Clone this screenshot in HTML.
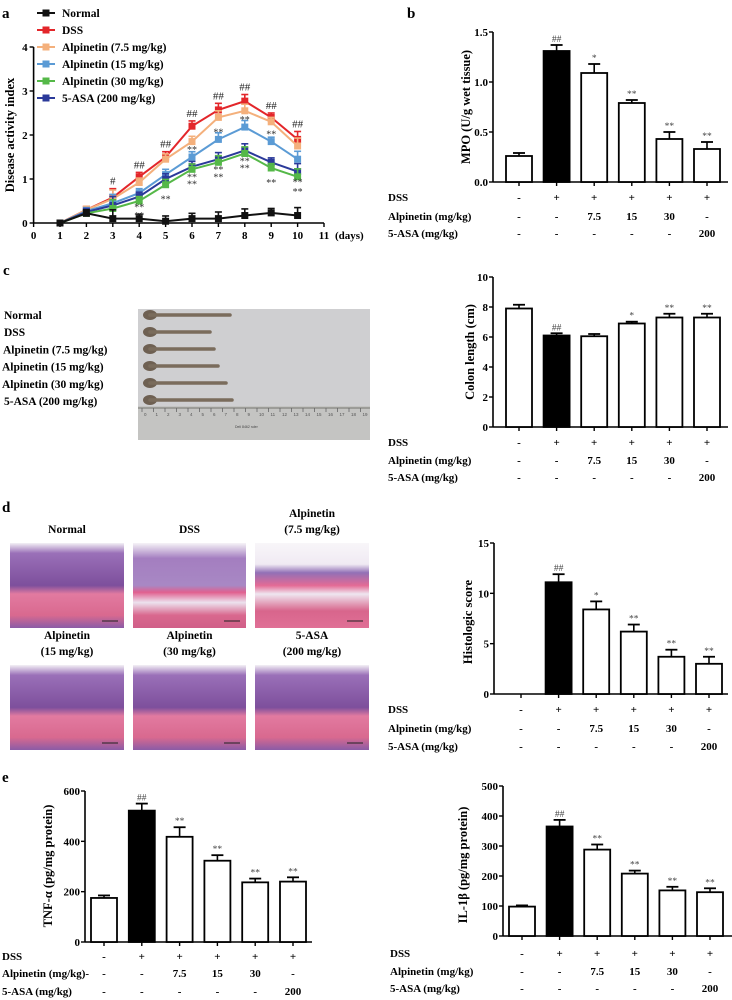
<!DOCTYPE html>
<html><head><meta charset="utf-8"><style>
html,body{margin:0;padding:0;background:#fff;}
svg{display:block;font-family:"Liberation Serif",serif;}
.b{font-weight:bold;}
</style></head><body>
<svg id="fig" width="732" height="1000" viewBox="0 0 732 1000" xmlns="http://www.w3.org/2000/svg">
<defs>
<linearGradient id="hist1" x1="0" y1="0" x2="0" y2="1">
<stop offset="0" stop-color="#f3f0f5"/><stop offset="0.12" stop-color="#9a70b8"/><stop offset="0.5" stop-color="#7d4f9c"/><stop offset="0.6" stop-color="#e27aa0"/><stop offset="0.85" stop-color="#d9698f"/><stop offset="1" stop-color="#8b5ca6"/>
</linearGradient>
<linearGradient id="hist2" x1="0" y1="0" x2="0" y2="1">
<stop offset="0" stop-color="#f6f3f7"/><stop offset="0.18" stop-color="#a47ec0"/><stop offset="0.5" stop-color="#a888c4"/><stop offset="0.58" stop-color="#e0608f"/><stop offset="0.7" stop-color="#ece2ee"/><stop offset="0.85" stop-color="#d9688e"/><stop offset="1" stop-color="#d05f88"/>
</linearGradient>
<linearGradient id="hist3" x1="0" y1="0" x2="0" y2="1">
<stop offset="0" stop-color="#f8f6f9"/><stop offset="0.25" stop-color="#f0eaf3"/><stop offset="0.35" stop-color="#9270b6"/><stop offset="0.5" stop-color="#e46b95"/><stop offset="0.6" stop-color="#efe6f0"/><stop offset="0.8" stop-color="#d8658c"/><stop offset="1" stop-color="#e07096"/>
</linearGradient>
</defs>
</svg>
<script>
const NS='http://www.w3.org/2000/svg';
const svg=document.getElementById('fig');
function el(tag,attrs,parent,text){const e=document.createElementNS(NS,tag);for(const k in attrs)e.setAttribute(k,attrs[k]);if(text!==undefined)e.textContent=text;(parent||svg).appendChild(e);return e;}

// ---------- Panel a data ----------
const aDays=[1,2,3,4,5,6,7,8,9,10];
const aSeriesNames=['Normal','DSS','Alpinetin (7.5 mg/kg)','Alpinetin (15 mg/kg)','Alpinetin (30 mg/kg)','5-ASA (200 mg/kg)'];
const aNormal=[0,0.22,0.1,0.1,0.04,0.1,0.1,0.17,0.23,0.17];
const aDSS=[0,0.3,0.58,1.05,1.5,2.2,2.57,2.77,2.4,1.9];
const aAlp75=[0,0.3,0.55,0.92,1.45,1.85,2.4,2.55,2.3,1.75];
const aAlp15=[0,0.27,0.45,0.68,1.1,1.5,1.9,2.18,1.85,1.45];
const aAlp30=[0,0.22,0.33,0.5,0.87,1.22,1.38,1.58,1.25,1.05];
const aASA=[0,0.25,0.4,0.6,1.0,1.28,1.45,1.65,1.38,1.17];
const aErr=[0.1,0.08,0.2,0.1,0.12,0.12,0.15,0.15,0.1,0.18];
const aXTicks=[0,1,2,3,4,5,6,7,8,9,10,11];
const aYTicks=[0,1,2,3,4];
const aHash=['','','#','##','##','##','##','##','##','##'];

// ---------- bar panels data ----------
const groups=['Normal','DSS','Alp 7.5','Alp 15','Alp 30','5-ASA'];
const rowDSS=['-','+','+','+','+','+'];
const rowAlp=['-','-','7.5','15','30','-'];
const rowASA=['-','-','-','-','-','200'];
const mpoVals=[0.26,1.31,1.09,0.79,0.43,0.33];
const mpoErr=[0.03,0.06,0.09,0.03,0.07,0.07];
const mpoTicks=['0.0','0.5','1.0','1.5'];
const colonVals=[7.9,6.1,6.05,6.9,7.3,7.3];
const colonErr=[0.25,0.15,0.15,0.12,0.25,0.25];
const colonTicks=[0,2,4,6,8,10];
const histVals=[0,11.1,8.4,6.2,3.7,3.0];
const histErr=[0,0.8,0.8,0.7,0.7,0.7];
const histTicks=[0,5,10,15];
const tnfVals=[175,522,418,323,237,240];
const tnfErr=[10,28,38,22,15,17];
const tnfTicks=[0,200,400,600];
const ilVals=[98,365,288,208,152,146];
const ilErr=[4,22,17,10,12,13];
const ilTicks=[0,100,200,300,400,500];
const mpoSig=['','##','*','**','**','**'];
const colonSig=['','##','','*','**','**'];
const histSig=['','##','*','**','**','**'];
const tnfSig=['','##','**','**','**','**'];
const ilSig=['','##','**','**','**','**'];

// ---------- Panel a ----------
(function(){
  const g=el('g',{});
  const x0=33.6,xs=26.4,y0=223,ys=44;
  const X=d=>x0+d*xs, Y=v=>y0-v*ys;
  el('text',{x:2,y:18,'font-size':15,'font-weight':'bold'},g,'a');
  // axes
  el('line',{x1:X(0),y1:Y(4),x2:X(0),y2:Y(0),stroke:'#000','stroke-width':1.6},g);
  el('line',{x1:X(0),y1:Y(0),x2:X(11),y2:Y(0),stroke:'#000','stroke-width':1.6},g);
  aYTicks.forEach(t=>{el('line',{x1:X(0)-4,y1:Y(t),x2:X(0),y2:Y(t),stroke:'#000','stroke-width':1.4},g);
    const tx=el('text',{x:X(0)-6,y:Y(t)+4,'font-size':11,'font-weight':'bold','text-anchor':'end'},g,String(t));});
  aXTicks.forEach(t=>{el('line',{x1:X(t),y1:Y(0),x2:X(t),y2:Y(0)+4,stroke:'#000','stroke-width':1.4},g);
    const tx=el('text',{x:X(t),y:Y(0)+16,'font-size':11,'font-weight':'bold','text-anchor':'middle'},g,String(t));});
  el('text',{x:335,y:239,'font-size':11,'font-weight':'bold'},g,'(days)');
  const yt=el('text',{x:0,y:0,'font-size':12.5,'font-weight':'bold','text-anchor':'middle',transform:`translate(14,${Y(2)}) rotate(-90)`},g,'Disease activity index');
  
  const series=[aNormal,aDSS,aAlp75,aAlp15,aAlp30,aASA];
  const colors=['#111','#e3262a','#f4b07c','#5b9bd5','#55b848','#2b3a9a'];
  // draw from back to front: normal last? draw DSS first
  const order=[1,2,3,5,4,0];
  order.forEach(si=>{
    const vals=series[si],c=colors[si];
    const sg=el('g',{},g);
    let d='';vals.forEach((v,i)=>{d+=(i?'L':'M')+X(aDays[i])+','+Y(v);});
    el('path',{d:d,fill:'none',stroke:c,'stroke-width':2},sg);
    vals.forEach((v,i)=>{
      if(i>0){const e=aErr[i];el('line',{x1:X(aDays[i]),y1:Y(v),x2:X(aDays[i]),y2:Y(v+e),stroke:c,'stroke-width':1.6},sg);
        el('line',{x1:X(aDays[i])-3.5,y1:Y(v+e),x2:X(aDays[i])+3.5,y2:Y(v+e),stroke:c,'stroke-width':1.6},sg);}
      const m=el('rect',{x:X(aDays[i])-3.5,y:Y(v)-3.5,width:7,height:7,fill:c},sg);
      
    });
  });
  aHash.forEach((h,i)=>{if(h){const t=el('text',{x:X(aDays[i]),y:Y(aDSS[i]+aErr[i])-4,'font-size':11,'text-anchor':'middle',fill:'#222'},g,h);}});
  // ** marks for treatment groups (approx positions tied to series)
  const starSets=[[aAlp15,[5,6,7,8],-8,'**'],[aAlp30,[3,4,5,6,7,8,9],14,'**'],[aASA,[3,5,6,7,9],10,'**']];
  starSets.forEach(s=>{s[1].forEach(i=>{const t=el('text',{x:X(aDays[i])+(s[2]>10?0:0),y:Y(s[0][i])+s[2]+4,'font-size':10,'text-anchor':'middle',fill:'#333'},g,s[3]);});});
  // legend
  aSeriesNames.forEach((n,i)=>{
    const ly=13+i*17;const lg=el('g',{},g);
    el('line',{x1:37,y1:ly,x2:55,y2:ly,stroke:colors[i],'stroke-width':2},lg);
    el('rect',{x:42.5,y:ly-3.5,width:7,height:7,fill:colors[i]},lg);
    el('text',{x:62,y:ly+4,'font-size':11.5,'font-weight':'bold'},lg,n);
  });
})();

// ---------- generic bar chart ----------
function barChart(name,o){
  const g=el('g',{});
  const max=o.ticks[o.ticks.length-1]*1;
  const Y=v=>o.y0-(v/max)*(o.y0-o.yTop);
  const X=i=>o.cx0+i*o.step;
  el('line',{x1:o.ax,y1:o.yTop,x2:o.ax,y2:o.y0,stroke:'#000','stroke-width':1.6},g);
  el('line',{x1:o.ax,y1:o.y0,x2:o.axEnd,y2:o.y0,stroke:'#000','stroke-width':1.6},g);
  o.ticks.forEach(t=>{const v=parseFloat(t);el('line',{x1:o.ax-4,y1:Y(v),x2:o.ax,y2:Y(v),stroke:'#000','stroke-width':1.4},g);
    const tx=el('text',{x:o.ax-5,y:Y(v)+4,'font-size':11,'font-weight':'bold','text-anchor':'end'},g,String(t));});
  o.vals.forEach((v,i)=>{
    const cx=X(i);
    el('line',{x1:cx,y1:o.y0,x2:cx,y2:o.y0+4,stroke:'#000','stroke-width':1.4},g);
    if(v>0){
      const e=o.err[i];
      el('line',{x1:cx,y1:Y(v),x2:cx,y2:Y(v+e),stroke:'#000','stroke-width':1.6},g);
      el('line',{x1:cx-6,y1:Y(v+e),x2:cx+6,y2:Y(v+e),stroke:'#000','stroke-width':1.8},g);
      const r=el('rect',{x:cx-13,y:Y(v),width:26,height:o.y0-Y(v),fill:i===1?'#000':'#fff',stroke:'#000','stroke-width':1.8},g);
      
      
    }
    if(o.sig[i]){const t=el('text',{x:cx,y:Y(v+o.err[i])-3,'font-size':9.5,'text-anchor':'middle',fill:'#444'},g,o.sig[i]);}
  });
  const yt=el('text',{x:0,y:0,'font-size':12.5,'font-weight':'bold','text-anchor':'middle',transform:`translate(${o.titleX},${o.titleY}) rotate(-90)`},g,o.title);
  
  const rows=[['DSS',rowDSS],[o.alpLabel||'Alpinetin (mg/kg)',rowAlp],['5-ASA (mg/kg)',rowASA]];
  rows.forEach((r,ri)=>{
    const ry=o.rowY[ri];
    const lt=el('text',{x:o.labelX,y:ry+4,'font-size':11,'font-weight':'bold'},g,r[0]);
    r[1].forEach((s,i)=>{const t=el('text',{x:X(i),y:ry+4,'font-size':11,'font-weight':'bold','text-anchor':'middle'},g,s);});
  });
  return g;
}
el('text',{x:407,y:18,'font-size':15,'font-weight':'bold'},svg,'b');
barChart('panel-b-mpo-chart',{vals:mpoVals,err:mpoErr,ticks:mpoTicks,sig:mpoSig,ax:493,axEnd:728,y0:182,yTop:32,cx0:519,step:37.6,title:'MPO (U/g wet tissue)',titleX:470,titleY:107,labelX:388,rowY:[197,216,233]});
barChart('panel-c-colon-chart',{vals:colonVals,err:colonErr,ticks:colonTicks,sig:colonSig,ax:493,axEnd:728,y0:427,yTop:277,cx0:519,step:37.6,title:'Colon length (cm)',titleX:474,titleY:352,labelX:388,rowY:[442,460,477]});
barChart('panel-d-histology-chart',{vals:histVals,err:histErr,ticks:histTicks,sig:histSig,ax:494,axEnd:728,y0:694,yTop:543,cx0:521,step:37.6,title:'Histologic score',titleX:472,titleY:622,labelX:388,rowY:[709,728,746]});
el('text',{x:2,y:782,'font-size':15,'font-weight':'bold'},svg,'e');
barChart('panel-e-tnf-chart',{vals:tnfVals,err:tnfErr,ticks:tnfTicks,sig:tnfSig,ax:85,axEnd:312,y0:942,yTop:791,cx0:104,step:37.8,title:'TNF-α  (pg/mg protein)',titleX:52,titleY:866,labelX:2,alpLabel:'Alpinetin (mg/kg)-',rowY:[956,973,991]});
barChart('panel-e-il1b-chart',{vals:ilVals,err:ilErr,ticks:ilTicks,sig:ilSig,ax:503,axEnd:732,y0:936,yTop:786,cx0:522,step:37.6,title:'IL-1β  (pg/mg protein)',titleX:467,titleY:865,labelX:390,rowY:[953,971,988]});

// ---------- Panel c photo ----------
(function(){
  const g=el('g',{});
  el('text',{x:3,y:275,'font-size':15,'font-weight':'bold'},svg,'c');
  el('rect',{x:138,y:309,width:232,height:131,fill:'#cfcfd1'},g);
  el('rect',{x:138,y:406,width:232,height:34,fill:'#c4c4c2'},g);
  el('line',{x1:138,y1:408,x2:370,y2:408,stroke:'#8e8e8a','stroke-width':1.5},g);
  for(let i=0;i<20;i++){el('line',{x1:142+i*11.5,y1:408,x2:142+i*11.5,y2:412,stroke:'#666','stroke-width':0.8},g);
    el('text',{x:144+i*11.5,y:416,'font-size':4.5,fill:'#555','font-family':'Liberation Sans'},g,String(i));}
  el('text',{x:235,y:428,'font-size':3.5,fill:'#444','font-family':'Liberation Sans'},g,'Deli 8462 ruler');
  const lens=[230,210,214,218,226,232];
  lens.forEach((L,i)=>{const y=315+i*17;
    el('ellipse',{cx:150,cy:y,rx:7,ry:5,fill:'#6e6052'},g);
    el('path',{d:`M150 ${y} L${L} ${y}`,stroke:'#7a6c5c','stroke-width':3.5,'stroke-linecap':'round'},g);});
  const labels=['Normal','DSS','Alpinetin (7.5 mg/kg)','Alpinetin (15 mg/kg)','Alpinetin (30 mg/kg)','5-ASA (200 mg/kg)'];
  const lx=[4,4,3,2,2,4];
  labels.forEach((l,i)=>{const t=el('text',{x:lx[i],y:319+i*17.2,'font-size':11.5,'font-weight':'bold'},g,l);});
})();

// ---------- Panel d histology ----------
(function(){
  const g=el('g',{});
  el('text',{x:2,y:512,'font-size':15,'font-weight':'bold'},svg,'d');
  const tx=[10,133,255],tw=[114,113,114];
  const titles=[[['Normal'],['DSS'],['Alpinetin','(7.5 mg/kg)']],[['Alpinetin','(15 mg/kg)'],['Alpinetin','(30 mg/kg)'],['5-ASA','(200 mg/kg)']]];
  const fills=[['url(#hist1)','url(#hist2)','url(#hist3)'],['url(#hist1)','url(#hist1)','url(#hist1)']];
  [543,665].forEach((ty,r)=>{
    tx.forEach((x,c)=>{
      const t=titles[r][c];
      t.forEach((s,li)=>{const yy=t.length===1?(ty-10):(ty-26+li*16);
        const tt=el('text',{x:x+tw[c]/2,y:yy,'font-size':11.5,'font-weight':'bold','text-anchor':'middle'},g,s);});
      const im=el('rect',{x:x,y:ty,width:tw[c],height:85,fill:fills[r][c]},g);
      
      el('line',{x1:x+tw[c]-22,y1:ty+78,x2:x+tw[c]-6,y2:ty+78,stroke:'#222','stroke-width':1},g);
    });
  });
})();
</script>
</body></html>
